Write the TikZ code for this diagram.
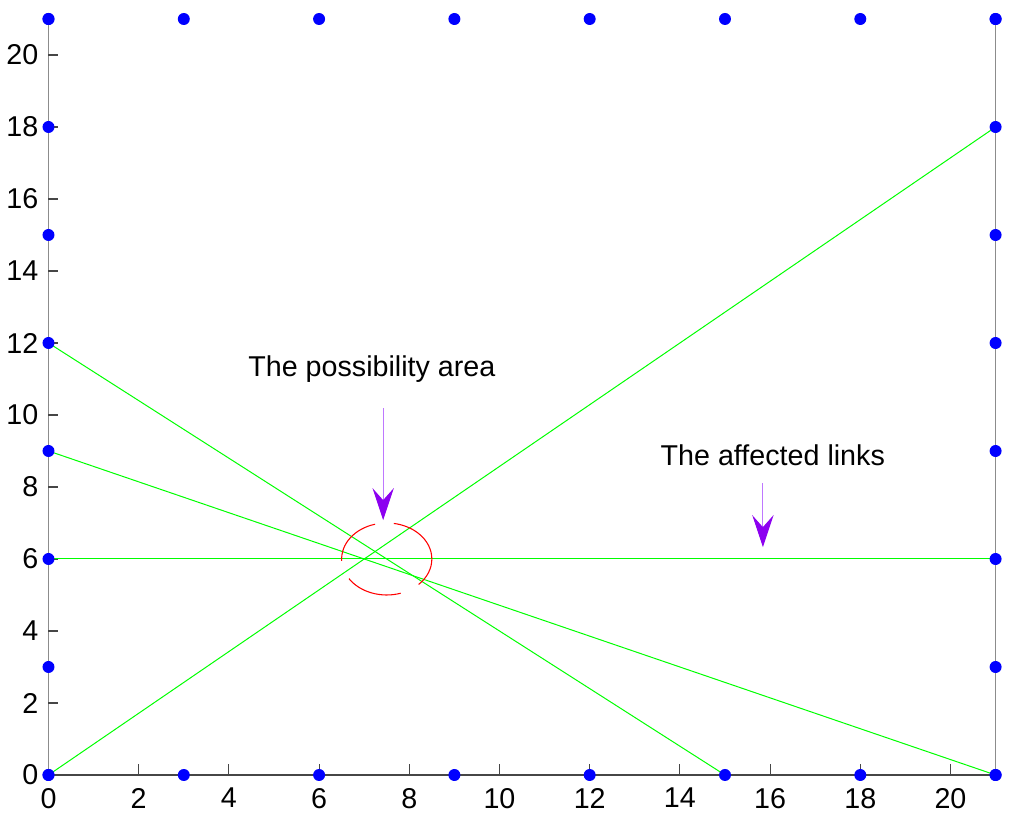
\documentclass[tikz,border=0pt]{standalone}
\usepackage{fontspec}
\setmainfont{Liberation Sans}
\usetikzlibrary{arrows.meta,calc}
\definecolor{dotblue}{RGB}{0,0,255}
\definecolor{lgreen}{RGB}{0,255,0}
\definecolor{cred}{RGB}{255,0,0}
\definecolor{shaftviolet}{RGB}{190,120,255}
\definecolor{headviolet}{RGB}{140,0,240}
\definecolor{axisgray}{RGB}{140,140,140}
\definecolor{axisdark}{RGB}{70,70,70}
\tikzset{
  dot/.style={circle,fill=dotblue,inner sep=0pt,minimum size=9pt},
  link/.style={lgreen,line width=0.75pt},
  ticklab/.style={font=\fontsize{21.5pt}{25pt}\selectfont,inner sep=0pt},
  annot/.style={font=\fontsize{21.5pt}{25pt}\selectfont,inner sep=0pt},
  pointer/.style={shaftviolet,line width=0.8pt,-{Stealth[length=24pt,width=16pt,inset=9pt,color=headviolet]}},
  area/.style={cred,line width=0.8pt}
}
\begin{document}
\begin{tikzpicture}[x=33.825pt,y=27pt]
\useasboundingbox (-1.0754,-1.5) rectangle (21.630,21.528);
% axes
\draw[axisgray,line width=0.8pt] (0,0) -- (0,21);
\draw[axisgray,line width=0.8pt] (21,0) -- (21,21);
\draw[axisdark,line width=0.8pt] (0,0) -- (21,0);
\foreach \v in {2,4,...,20}{
  \draw[axisdark,line width=0.8pt] (\v,0) -- ++(0,8pt);
  \draw[axisdark,line width=0.8pt] (0,\v) -- ++(7pt,0);
}
\foreach \v in {0,2,...,20}{
  \node[ticklab,anchor=north] (xl\v) at (\v,-0.36) {\v};
  \node[ticklab,anchor=east] (yl\v) at (-0.22,\v) {\v};
}
% positions of sensors
\foreach \i in {0,...,7}{
  \pgfmathtruncatemacro{\p}{3*\i}
  \coordinate (t\i) at (\p,21);
  \coordinate (b\i) at (\p,0);
  \coordinate (l\i) at (0,\p);
  \coordinate (r\i) at (21,\p);
}
% links
\draw[link] (b0) -- (r6);
\draw[link] (l4) -- (b5);
\draw[link] (l3) -- (r0);
\draw[link] (l2) -- (r2);
% possibility area
\coordinate (pc) at (7.5,6);
\draw[area] ($(pc)+(-45:1)$) arc[start angle=-45,end angle=81,radius=1];
\draw[area] ($(pc)+(-147:1)$) arc[start angle=-147,end angle=-72,radius=1];
\draw[area] ($(pc)+(105:1)$) arc[start angle=105,end angle=183,radius=1];
% dots
\foreach \i in {0,...,7}{
  \node[dot] (dt\i) at (t\i) {};
  \node[dot] (db\i) at (b\i) {};
  \node[dot] (dl\i) at (l\i) {};
  \node[dot] (dr\i) at (r\i) {};
}
% annotations
\node[annot] (pa) at (7.17,11.28) {The possibility area};
\coordinate (pa1) at (7.42,10.19);
\coordinate (pa2) at (7.42,7.08);
\draw[pointer] (pa1) -- (pa2);
\node[annot] (al) at (16.06,8.89) {The affected links};
\coordinate (al1) at (15.84,8.11);
\coordinate (al2) at (15.84,6.33);
\draw[pointer] (al1) -- (al2);
\end{tikzpicture}
\end{document}
